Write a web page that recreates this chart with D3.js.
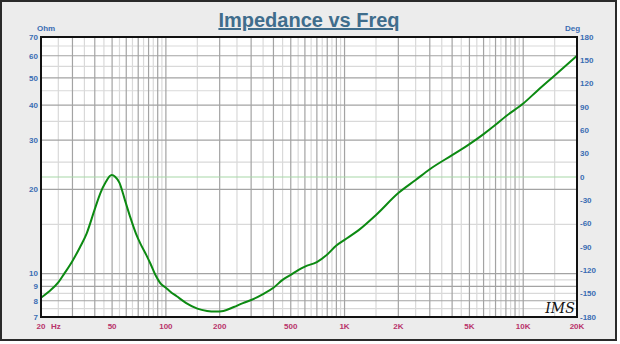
<!DOCTYPE html>
<html><head><meta charset="utf-8">
<script src="https://cdn.jsdelivr.net/npm/d3@7"></script>
<style>body{margin:0;background:#fff}svg{display:block}</style>
</head><body>
<script>
const freqs = [20,22,25,27,30,33,36,40,43,46,49.7,52,55,59,63,68,72,78,82,88,93,100,106,115,130,150,170,190,210,240,270,300,350,400,450,500,550,600,700,800,900,1000,1200,1500,2000,2500,3000,4000,5000,6000,7000,8000,10000,12000,15000,20000];
const impedance = [8.2,8.6,9.3,10.0,11.1,12.4,13.9,17.0,19.4,21.2,22.5,22.2,21.1,18.3,16.0,13.9,12.8,11.6,10.85,9.8,9.25,8.9,8.62,8.3,7.85,7.5,7.36,7.32,7.36,7.6,7.85,8.05,8.45,8.9,9.5,9.9,10.3,10.6,11.0,11.7,12.6,13.2,14.3,16.2,19.4,21.6,23.6,26.5,29,31.5,34,36.5,40.5,45,51,60];
const yTicks = [7,8,9,10,20,30,40,50,60,70];
const yMinor = [7.5,8.5,9.5,15,25,35,45,55,65];
const phaseTicks = [-180,-150,-120,-90,-60,-30,0,30,60,90,120,150,180];
const xTickVals = [20,50,100,200,500,1000,2000,5000,10000,20000];
const xTickLabels = ["20","50","100","200","500","1K","2K","5K","10K","20K"];

const W=620,H=344, L=41,T=37,R=577,B=317;
const svg=d3.select("body").append("svg").attr("width",W).attr("height",H);
svg.append("rect").attr("x",1).attr("y",1).attr("width",615).attr("height",339).attr("fill","#ececec").attr("stroke","#2a2a2a").attr("stroke-width",2);

const x=d3.scaleLog().domain([20,20000]).range([L,R]);
const y=d3.scaleLog().domain([7,70]).range([B,T]);
const yp=d3.scaleLinear().domain([-180,180]).range([B,T]);

svg.append("rect").attr("x",L).attr("y",T).attr("width",R-L).attr("height",B-T).attr("fill","#fff");

const xMajor=[],xMin=[];
[10,100,1000,10000].forEach(d=>{for(let k=1;k<10;k++){const v=k*d;if(v>=20&&v<=20000)xMajor.push(v);const m=(k+0.5)*d;if(m>20&&m<20000)xMin.push(m);}});
const g=svg.append("g");
g.selectAll(".xm").data(xMin).join("line").attr("x1",d=>x(d)).attr("x2",d=>x(d)).attr("y1",T).attr("y2",B).attr("stroke","#d9d9d9").attr("stroke-width",1.2);
g.selectAll(".ym").data(yMinor).join("line").attr("y1",d=>y(d)).attr("y2",d=>y(d)).attr("x1",L).attr("x2",R).attr("stroke","#d9d9d9").attr("stroke-width",1.2);
g.selectAll(".xM").data(xMajor).join("line").attr("x1",d=>x(d)).attr("x2",d=>x(d)).attr("y1",T).attr("y2",B).attr("stroke","#a3a3a3").attr("stroke-width",1.2);
g.selectAll(".yM").data(yTicks).join("line").attr("y1",d=>y(d)).attr("y2",d=>y(d)).attr("x1",L).attr("x2",R).attr("stroke","#a3a3a3").attr("stroke-width",1.2);
g.append("line").attr("x1",L).attr("x2",R).attr("y1",yp(0)).attr("y2",yp(0)).attr("stroke","#a8d8a8").attr("stroke-width",1.2);

const line=d3.line().x((d,i)=>x(freqs[i])).y(d=>y(d)).curve(d3.curveMonotoneX);
svg.append("path").datum(impedance).attr("d",line).attr("fill","none").attr("stroke","#0c8a12").attr("stroke-width",2);

svg.append("rect").attr("x",L).attr("y",T).attr("width",R-L).attr("height",B-T).attr("fill","none").attr("stroke","#111").attr("stroke-width",2);

const font="Liberation Sans, Arial, sans-serif";
const blue="#3a6db3", mag="#b8336a";
svg.selectAll(".yl").data(yTicks).join("text").attr("x",38).attr("y",d=>y(d)).attr("dy","0.35em").attr("text-anchor","end").attr("font-family",font).attr("font-size",8).attr("font-weight","bold").attr("fill",blue).text(d=>d);
svg.selectAll(".pl").data(phaseTicks).join("text").attr("x",580).attr("y",d=>yp(d)).attr("dy","0.35em").attr("text-anchor","start").attr("font-family",font).attr("font-size",8).attr("font-weight","bold").attr("fill",blue).text(d=>d);
svg.selectAll(".xl").data(xTickVals).join("text").attr("x",d=>x(d)).attr("y",326).attr("dy","0.35em").attr("text-anchor","middle").attr("font-family",font).attr("font-size",8).attr("font-weight","bold").attr("fill",mag).text((d,i)=>xTickLabels[i]);
svg.append("text").attr("x",51).attr("y",326).attr("dy","0.35em").attr("font-family",font).attr("font-size",8).attr("font-weight","bold").attr("fill",mag).text("Hz");
svg.append("text").attr("x",37).attr("y",31).attr("font-family",font).attr("font-size",8).attr("font-weight","bold").attr("fill",blue).text("Ohm");
svg.append("text").attr("x",565).attr("y",31).attr("font-family",font).attr("font-size",8).attr("font-weight","bold").attr("fill",blue).text("Deg");
svg.append("text").attr("x",309).attr("y",27).attr("text-anchor","middle").attr("font-family",font).attr("font-size",20).attr("font-weight","bold").attr("fill","#3f6d8c").attr("text-decoration","underline").text("Impedance vs Freq");
svg.append("text").attr("x",560).attr("y",313).attr("text-anchor","middle").attr("font-family","DejaVu Serif, serif").attr("font-style","italic").attr("font-size",14).attr("fill","#111").text("IMS");
</script>
</body></html>
